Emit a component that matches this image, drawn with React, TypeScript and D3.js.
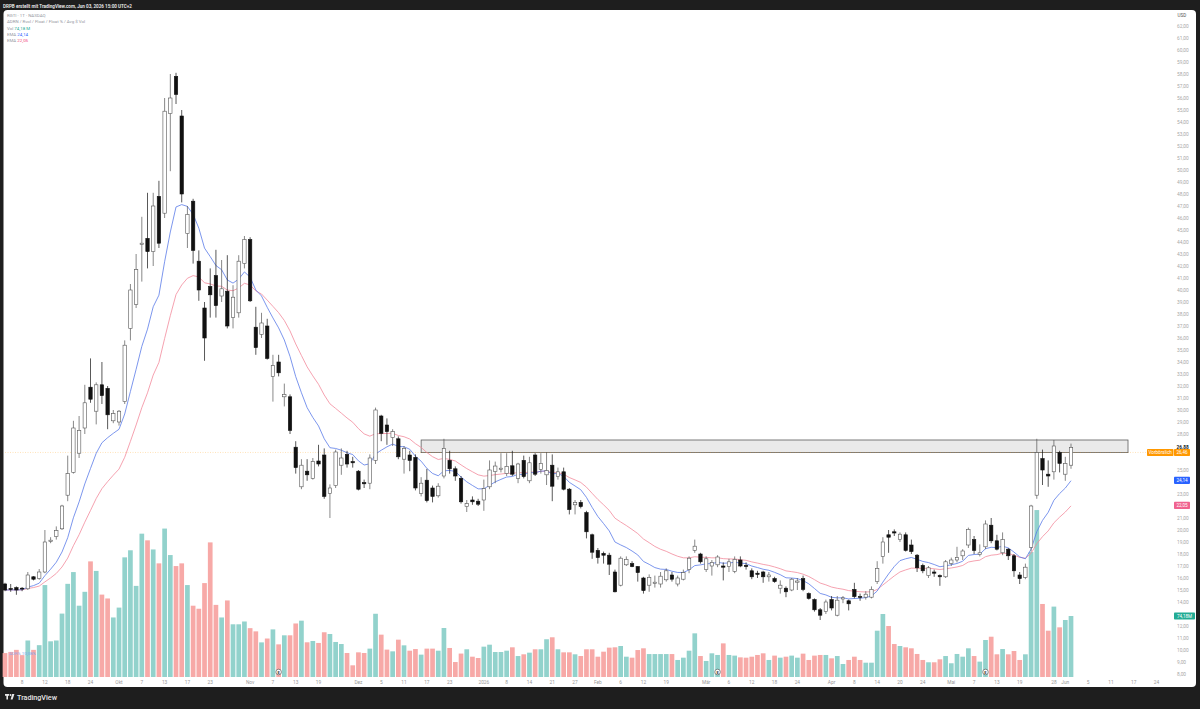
import { useMemo } from 'react';
import * as d3 from 'd3';

// RGTI daily candles, Sep 3 2025 .. Jun 2 2026 (values in USD, volume in millions)
const opens = [
  15.5, 15.12, 15.2, 15.15, 15.1, 16.1, 15.95, 16.5, 19.05, 19.45, 20.1, 22.9, 24.8, 26.4, 28.5, 31.9, 29.9, 32.1, 31.8, 29.1, 29.0, 30.7, 36.8, 38.8, 43.8, 44.3, 43.2,
  47.8, 46.4, 54.7, 57.8, 54.5, 44.7, 47.4, 42.4, 38.5, 40.3, 41.2, 39.5, 39.9, 37.7, 38.1, 42.2, 44.2, 36.9, 36.3, 37.0, 32.8, 34.0, 31.1, 31.1, 26.9, 23.6,
  24.9, 24.3, 25.75, 26.25, 23.05, 23.7, 25.4, 26.3, 25.7, 24.9, 23.95, 23.9, 25.8, 29.5, 28.75, 27.7, 27.6, 25.9, 26.25, 26.05, 23.05, 24.15, 23.5, 22.85, 24.5, 25.8, 25.1,
  24.3, 21.95, 22.5, 22.4, 22.5, 23.6, 24.86, 25.05, 24.7, 25.35, 24.3, 25.8, 24.1, 26.25, 25.05, 24.6, 25.4, 24.45, 24.85, 23.4, 22.1, 22.3, 21.45, 19.6, 18.3, 18.05, 17.9,
  16.5, 15.4, 17.1, 17.2, 16.95, 16.0, 15.4, 15.55, 15.5, 15.85, 16.25, 15.5, 15.9, 16.7, 18.3, 18.0, 16.7, 17.0, 17.1, 17.0, 16.95, 16.55, 17.5, 17.05, 16.6, 16.4, 16.5,
  16.1, 15.95, 15.15, 15.15, 15.0, 15.65, 15.95, 14.7, 14.2, 13.35, 13.2, 14.2, 12.9, 14.25, 14.1, 15.05, 14.45, 14.4, 14.4, 15.7, 17.8, 19.6, 19.85, 19.2, 19.6, 18.75, 17.9,
  17.05, 16.2, 16.5, 16.2, 16.1, 17.2, 17.5, 17.85, 18.75, 19.2, 17.95, 18.6, 20.4, 19.1, 18.1, 18.4, 17.85, 16.25, 16.05, 18.55, 22.9, 25.95, 24.65, 24.85, 26.45, 24.65, 25.4,
];
const highs = [
  15.6, 15.5, 15.3, 15.25, 16.5, 16.15, 16.75, 20.0, 19.4, 20.3, 22.1, 26.2, 29.1, 29.5, 32.1, 34.3, 32.3, 34.0, 32.0, 30.0, 30.0, 35.8, 40.5, 43.0, 46.1, 48.1, 48.1,
  49.1, 56.0, 58.0, 58.1, 55.0, 47.0, 47.6, 43.3, 39.0, 41.8, 43.35, 42.5, 42.9, 40.4, 42.9, 44.5, 44.4, 38.6, 38.1, 37.6, 34.6, 34.6, 32.2, 31.3, 27.4, 25.9,
  25.9, 26.0, 27.1, 26.8, 23.8, 26.7, 26.8, 26.6, 26.1, 25.0, 24.2, 26.3, 30.2, 29.6, 29.3, 28.4, 27.8, 27.0, 26.6, 26.3, 24.4, 25.1, 23.7, 23.9, 27.6, 26.6, 25.3,
  24.5, 22.5, 22.8, 22.6, 24.2, 25.8, 25.7, 26.4, 26.4, 26.6, 25.6, 26.2, 26.1, 26.4, 26.4, 26.5, 26.3, 25.2, 25.2, 23.5, 22.5, 22.5, 21.6, 19.7, 18.5, 18.2, 18.1,
  16.7, 17.8, 17.8, 17.4, 17.0, 16.1, 16.3, 16.2, 16.5, 16.8, 16.5, 16.2, 16.7, 17.8, 19.2, 18.1, 17.8, 17.5, 17.9, 17.3, 17.6, 17.8, 17.8, 17.3, 16.8, 16.6, 16.6,
  16.5, 16.1, 15.8, 15.3, 16.0, 16.0, 16.2, 14.8, 14.3, 13.5, 14.2, 14.5, 14.5, 14.5, 14.2, 15.6, 14.7, 14.9, 15.3, 17.4, 19.4, 20.0, 20.05, 19.8, 19.8, 19.2, 18.0,
  17.2, 17.0, 16.7, 16.3, 17.5, 17.7, 18.6, 18.4, 20.2, 19.5, 18.8, 20.8, 21.0, 19.6, 19.8, 18.5, 18.0, 16.5, 17.2, 22.1, 27.6, 26.7, 25.8, 27.5, 26.6, 26.1, 27.2,
];
const lows = [
  14.9, 14.85, 14.6, 14.9, 15.0, 15.8, 15.85, 16.4, 18.9, 19.2, 20.0, 22.4, 24.7, 26.0, 28.0, 30.6, 28.8, 30.5, 28.4, 28.9, 28.7, 30.5, 35.8, 38.5, 40.7, 41.8, 42.0,
  43.5, 46.0, 49.9, 55.5, 47.3, 43.5, 42.2, 39.1, 34.1, 37.7, 37.7, 39.0, 36.8, 36.8, 37.7, 41.8, 39.0, 34.6, 36.0, 34.2, 30.7, 32.8, 30.3, 28.0, 24.7, 23.4,
  24.1, 24.2, 25.3, 22.6, 21.0, 23.5, 24.6, 25.2, 25.2, 23.3, 23.5, 23.4, 25.5, 27.4, 27.1, 27.0, 25.9, 24.7, 24.9, 23.3, 22.8, 22.3, 22.3, 22.7, 24.3, 24.7, 24.1,
  22.2, 21.5, 22.1, 22.0, 21.6, 23.4, 23.9, 24.8, 24.5, 24.5, 23.9, 24.3, 23.9, 24.5, 24.7, 23.75, 22.4, 24.2, 23.3, 21.3, 21.3, 21.8, 19.3, 17.6, 17.2, 17.2, 16.25,
  14.8, 15.3, 17.0, 16.9, 15.7, 14.7, 14.85, 15.2, 15.2, 15.7, 15.7, 15.3, 15.8, 16.4, 18.1, 17.2, 16.5, 16.2, 16.9, 15.8, 16.5, 16.4, 16.9, 16.7, 15.9, 16.0, 15.6,
  15.7, 15.6, 14.7, 14.4, 14.9, 15.0, 14.9, 14.2, 13.2, 12.5, 13.0, 13.3, 12.8, 13.9, 13.3, 14.3, 14.1, 14.2, 14.3, 15.5, 17.2, 18.1, 19.5, 19.0, 18.2, 18.0, 16.5,
  16.4, 16.0, 16.1, 15.35, 16.0, 17.0, 17.3, 17.5, 18.5, 18.0, 17.8, 18.4, 18.9, 18.3, 17.9, 17.5, 16.1, 15.5, 15.9, 18.2, 22.6, 23.75, 23.6, 24.2, 24.8, 24.1, 25.1,
];
const closes = [
  15.0, 15.05, 15.0, 15.08, 16.25, 15.9, 16.5, 19.0, 19.15, 19.95, 22.0, 24.7, 28.5, 28.3, 30.6, 30.9, 32.1, 31.2, 29.6, 29.7, 29.9, 35.4, 40.0, 41.7, 43.9, 43.2, 47.0,
  43.9, 54.9, 56.0, 56.3, 48.0, 46.3, 43.3, 40.0, 36.0, 39.6, 38.7, 40.1, 37.0, 39.4, 42.4, 44.2, 39.1, 35.2, 37.25, 34.3, 33.7, 33.1, 31.3, 28.3, 25.2, 25.4,
  24.6, 25.7, 25.5, 22.8, 23.5, 26.5, 26.0, 25.5, 25.6, 23.4, 23.85, 26.0, 30.0, 28.05, 28.2, 28.2, 26.1, 26.8, 25.8, 23.5, 23.9, 22.45, 22.8, 23.65, 26.8, 25.1, 24.5,
  22.35, 22.2, 22.35, 22.15, 23.45, 25.0, 25.33, 25.15, 25.3, 24.65, 25.5, 24.45, 25.6, 24.65, 25.55, 24.95, 23.65, 24.85, 23.4, 21.7, 22.3, 21.95, 19.85, 18.15, 17.7, 17.9, 17.15,
  14.85, 17.65, 17.55, 16.95, 16.45, 14.95, 16.05, 15.65, 16.15, 16.6, 15.9, 16.0, 16.45, 17.65, 18.65, 17.35, 17.6, 17.3, 17.75, 16.9, 17.35, 17.55, 17.0, 16.95, 16.1, 16.3, 16.1,
  16.25, 15.7, 15.4, 14.85, 15.9, 15.75, 15.05, 14.3, 13.35, 12.9, 14.0, 13.5, 14.15, 14.35, 13.85, 14.45, 14.4, 14.65, 15.05, 16.8, 19.0, 19.4, 19.75, 19.65, 18.3, 18.2, 16.85,
  16.6, 16.85, 16.4, 16.1, 17.35, 17.5, 17.7, 18.25, 20.05, 18.3, 18.1, 20.5, 19.1, 18.4, 19.2, 17.85, 16.6, 15.95, 16.9, 22.0, 26.45, 25.0, 24.5, 27.0, 25.55, 25.55, 26.88,
];
const volumes = [
  29.1, 30.5, 33, 26.6, 44.4, 33, 38.7, 111.8, 43.4, 44.4, 77.1, 113.3, 127.6, 86.7, 103.6, 140.6, 129, 100.2, 95.5, 72.4, 84.4, 145.5, 154.1, 110.8, 174.3, 166.2, 155.1,
  138.2, 180.5, 148.3, 134.9, 138.2, 111.8, 86.7, 83, 114.2, 163.7, 87.7, 72.4, 93.1, 64.1, 64.1, 67.5, 59.4, 55.5, 42.1, 46.8, 57.9, 39.7, 50.7, 50.7, 65.1, 68.5,
  42.2, 43.8, 41.4, 54.4, 52.3, 42.6, 40.1, 29.2, 14.2, 30, 29.2, 34.5, 76.9, 51.5, 33.3, 31.2, 45.4, 38.5, 32, 34, 27.2, 34.5, 34.5, 32, 59.6, 35.3, 18.2,
  28.5, 33.7, 24.7, 23.1, 36.9, 39.3, 30.4, 30.4, 32, 36.1, 25.5, 27.6, 29.6, 33.7, 33.7, 45.9, 48.3, 33.7, 30, 30, 27.6, 25.5, 33.7, 33.7, 24.7, 30.8, 35.7,
  36.1, 37.7, 24.7, 23.5, 32.8, 34.9, 27.9, 27.9, 27.9, 27.9, 27.9, 20.7, 23.5, 32, 53.1, 25.5, 19.5, 28.8, 26.8, 40.9, 26.8, 26, 23.9, 23.5, 24.7, 26.8, 28.8,
  20.7, 26, 23.5, 24.7, 26, 23.5, 28.4, 20.7, 26, 26.8, 26.8, 22.7, 25.5, 15.8, 20.7, 24.7, 20.7, 17.4, 17.4, 56.3, 76.6, 62, 40.1, 37.7, 36.1, 34.9, 28,
  20.7, 17.9, 17.9, 21.5, 25.5, 16.7, 28, 24.7, 34.9, 25.5, 18.7, 45, 49, 27.6, 34, 27.6, 31.6, 20.7, 27.6, 152, 203, 88.8, 56.3, 85.6, 60.4, 69.3, 74.18,
];

const holidays = ['2025-11-27', '2025-12-25', '2026-01-01', '2026-01-19', '2026-02-16', '2026-04-03', '2026-05-25', '2026-06-19'];

const xTicks: [string, string][] = [
  ['2025-09-08', '8'], ['2025-09-12', '12'], ['2025-09-18', '18'], ['2025-09-24', '24'],
  ['2025-10-01', 'Okt'], ['2025-10-07', '7'], ['2025-10-13', '13'], ['2025-10-17', '17'], ['2025-10-23', '23'],
  ['2025-11-03', 'Nov'], ['2025-11-07', '7'], ['2025-11-13', '13'], ['2025-11-19', '19'],
  ['2025-12-01', 'Dez'], ['2025-12-05', '5'], ['2025-12-11', '11'], ['2025-12-17', '17'], ['2025-12-23', '23'],
  ['2026-01-02', '2026'], ['2026-01-08', '8'], ['2026-01-14', '14'], ['2026-01-21', '21'], ['2026-01-27', '27'],
  ['2026-02-02', 'Feb'], ['2026-02-06', '6'], ['2026-02-12', '12'], ['2026-02-19', '19'],
  ['2026-03-02', 'Mär'], ['2026-03-06', '6'], ['2026-03-12', '12'], ['2026-03-18', '18'], ['2026-03-24', '24'],
  ['2026-04-01', 'Apr'], ['2026-04-08', '8'], ['2026-04-14', '14'], ['2026-04-20', '20'], ['2026-04-24', '24'],
  ['2026-05-01', 'Mai'], ['2026-05-07', '7'], ['2026-05-13', '13'], ['2026-05-19', '19'], ['2026-05-28', '28'],
  ['2026-06-01', 'Jun'], ['2026-06-05', '5'], ['2026-06-11', '11'], ['2026-06-17', '17'], ['2026-06-24', '24'],
];

const priceTicks = [8, 9, 10, 11, 12, 13, 14, 15, 16, 17, 18, 19, 20, 21, 22, 23, 24, 25, 26, 27, 28, 29, 30, 31, 32, 33, 34, 35,
  36, 37, 38, 39, 40, 41, 42, 43, 44, 45, 46, 47, 48, 49, 50, 51, 52, 53, 54, 55, 56, 57, 58, 59, 60, 61, 62];

const earningsDates = ['2025-11-10', '2026-03-04', '2026-05-11'];
const zone = { from: '2025-12-16', to: '2026-06-16', top: 27.5, bottom: 26.45 };
const preMarket = 26.46;
const lastVolume = 74.18;
// indicator readings as printed in the legend (longer history than shown)
const emaFastLast = 24.14;
const emaSlowLast = 22.05;

const fmt = d3.timeFormat('%Y-%m-%d');
const de = (v: number) => v.toFixed(2).replace('.', ',');

function ema(values: number[], n: number) {
  const k = 2 / (n + 1);
  let e = values[0];
  return values.map((v, i) => (i === 0 ? v : (e = v * k + e * (1 - k))));
}

const FONT = 'Roboto, "Noto Sans", sans-serif';

export default function App() {
  const days = useMemo(
    () =>
      d3.timeDay
        .range(new Date(2025, 8, 3), new Date(2026, 5, 26))
        .filter((d) => d.getDay() !== 0 && d.getDay() !== 6 && !holidays.includes(fmt(d)))
        .map(fmt),
    []
  );
  const idx = (s: string) => days.indexOf(s);

  const x = d3.scaleLinear().domain([0, closes.length - 1]).range([5, 1071]);
  const y = d3.scaleLinear().domain([8, 62]).range([674, 26]);
  const yv = d3.scaleLinear().domain([0, lastVolume]).range([677, 616]);

  const ema10 = ema(closes, 10);
  const ema20 = ema(closes, 20);
  const line = d3.line<number>().x((_, i) => x(i)).y((d) => y(d));

  const bodyW = 3.4;
  const volW = 4.7;

  const lastClose = closes[closes.length - 1];
  const badgeYs = [lastClose, preMarket, emaFastLast, emaSlowLast].map((v) => y(v)).concat(yv(lastVolume));
  const visibleTicks = priceTicks.filter((t) => badgeYs.every((by) => Math.abs(y(t) - by) > 6));

  return (
    <div style={{ position: 'fixed', left: 0, top: 0 }}>
      <svg width={1200} height={709} style={{ display: 'block', fontFamily: FONT }}>
        <rect width={1200} height={709} fill="#1e1e1e" />
        <text x={3} y={7.5} fontSize={4.6} fill="#f0f0f0" fontWeight={600}>
          DRPB erstellt mit TradingView.com, Jun 03, 2026 15:00 UTC+2
        </text>
        <rect x={3.5} y={10} width={1192.5} height={677} rx={4} fill="#ffffff" />

        {/* legend */}
        <g fontSize={4.4} fill="#9598a1">
          <text x={7} y={17.3}>RGTI · 1T · NASDAQ</text>
          <text x={7} y={22.5}>ADRN / Rvol / Float / Float % / Avg $ Vol</text>
          <text x={7} y={29.6}>Vol <tspan fill="#22ab94">{de(lastVolume)} M</tspan></text>
          <text x={7} y={35.9}>EMA <tspan fill="#2962ff">{de(emaFastLast)}</tspan></text>
          <text x={7} y={41.9}>EMA <tspan fill="#f23f7a">{de(emaSlowLast)}</tspan></text>
        </g>

        {/* volume */}
        <g>
          {volumes.map((v, i) => (
            <rect
              key={i}
              x={x(i) - volW / 2}
              y={yv(v)}
              width={volW}
              height={yv(0) - yv(v)}
              fill={closes[i] < opens[i] ? '#f7a9a7' : '#92d2cc'}
            />
          ))}
        </g>
        <text x={9} y={654.5} fontSize={4.4} fill="#9fa8e6">ADR% <tspan fill="#7aa7ee">10,08%</tspan></text>

        {/* resistance zone */}
        <rect
          x={x(idx(zone.from))}
          y={y(zone.top)}
          width={x(idx(zone.to)) - x(idx(zone.from))}
          height={y(zone.bottom) - y(zone.top)}
          fill="#e6e6e6"
          fillOpacity={0.85}
          stroke="#5d5d5d"
          strokeWidth={0.8}
        />

        {/* pre-market line */}
        <line x1={5} x2={1147} y1={y(preMarket)} y2={y(preMarket)} stroke="#ff9800" strokeOpacity={0.45} strokeWidth={0.6} strokeDasharray="1 1.5" />

        {/* EMAs */}
        <path d={line(ema20) ?? ''} fill="none" stroke="#f28a9c" strokeWidth={0.8} />
        <path d={line(ema10) ?? ''} fill="none" stroke="#5a7be8" strokeWidth={0.8} />

        {/* candles */}
        <g>
          {closes.map((c, i) => {
            const o = opens[i];
            const down = c < o;
            const top = y(Math.max(o, c));
            const bot = y(Math.min(o, c));
            return (
              <g key={i}>
                <line x1={x(i)} x2={x(i)} y1={y(highs[i])} y2={y(lows[i])} stroke={down ? '#111' : '#555'} strokeWidth={0.7} />
                <rect
                  x={x(i) - bodyW / 2}
                  y={top}
                  width={bodyW}
                  height={Math.max(bot - top, 0.8)}
                  fill={down ? '#111111' : '#ffffff'}
                  stroke={down ? '#111111' : '#555555'}
                  strokeWidth={0.6}
                />
              </g>
            );
          })}
        </g>

        {/* earnings markers */}
        {earningsDates.map((d) => (
          <g key={d} transform={`translate(${x(idx(d))},672)`}>
            <circle r={2.8} fill="#ffffff" stroke="#444" strokeWidth={0.6} />
            <text y={1.5} fontSize={4} textAnchor="middle" fill="#333" fontWeight={700}>E</text>
          </g>
        ))}

        {/* x axis */}
        <g fontSize={4.8} fill="#9a9a9a" textAnchor="middle">
          {xTicks.map(([d, label]) => (
            <text key={d} x={x(idx(d))} y={684}>{label}</text>
          ))}
        </g>

        {/* price axis */}
        <g fontSize={4.8} fill="#a8a8a8">
          <text x={1177.5} y={17} fill="#555" fontSize={4.6}>USD</text>
          {visibleTicks.map((t) => (
            <text key={t} x={1177} y={y(t) + 1.7}>{de(t)}</text>
          ))}
          <text x={1176.5} y={y(lastClose) + 1.7} fill="#131722" fontWeight={700}>
            {de(lastClose)}
          </text>
        </g>

        {/* badges */}
        <g fontSize={4.6} fill="#fff">
          <rect x={1147} y={y(preMarket) - 3.6} width={26.5} height={7.2} rx={0.8} fill="#ff9800" />
          <text x={1160.2} y={y(preMarket) + 1.6} textAnchor="middle">Vorbörslich</text>
          <rect x={1174} y={y(preMarket) - 3.6} width={16} height={7.2} rx={0.8} fill="#ff9800" />
          <text x={1182} y={y(preMarket) + 1.6} textAnchor="middle">{de(preMarket)}</text>

          <rect x={1174} y={y(emaFastLast) - 3.6} width={16} height={7.2} rx={0.8} fill="#2962ff" />
          <text x={1182} y={y(emaFastLast) + 1.6} textAnchor="middle">{de(emaFastLast)}</text>

          <rect x={1174} y={y(emaSlowLast) - 3.6} width={16} height={7.2} rx={0.8} fill="#f0628f" />
          <text x={1182} y={y(emaSlowLast) + 1.6} textAnchor="middle">{de(emaSlowLast)}</text>

          <rect x={1174} y={yv(lastVolume) - 3.6} width={21} height={7.2} rx={0.8} fill="#22ab94" />
          <text x={1184.5} y={yv(lastVolume) + 1.6} textAnchor="middle">{de(lastVolume)}M</text>
        </g>

        {/* footer logo */}
        <g transform="translate(5,694)" fill="#e8e8e8">
          <rect x={0} y={0} width={4.2} height={1.8} />
          <rect x={1.4} y={0} width={1.6} height={5.5} />
          <circle cx={5.6} cy={1} r={0.9} />
          <path d="M7.2 0 L9.4 0 L7.6 5.5 L5.6 5.5 Z" />
          <text x={12} y={5.6} fontSize={7.2} fontWeight={500}>TradingView</text>
        </g>
      </svg>
    </div>
  );
}
